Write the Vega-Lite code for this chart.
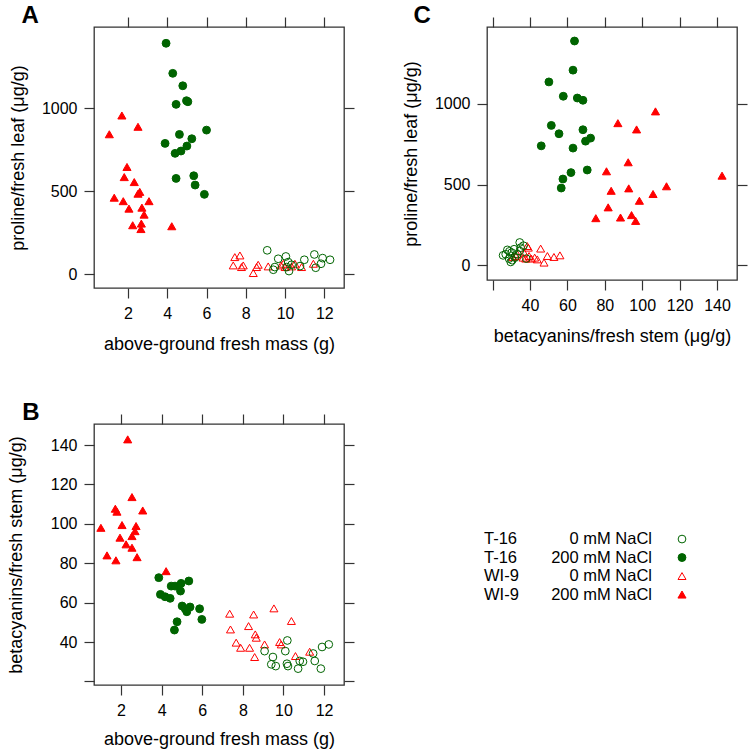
{
  "$schema": "https://vega.github.io/schema/vega-lite/v6.json",
  "padding": {"left": 6, "top": 3, "right": 0, "bottom": 0},
  "background": "white",
  "datasets": {
    "panelA": [
      {"g": "T-16 200", "mass": 3.94, "proline": 1390},
      {"g": "T-16 200", "mass": 4.28, "proline": 1209},
      {"g": "T-16 200", "mass": 4.79, "proline": 1134},
      {"g": "T-16 200", "mass": 4.45, "proline": 1022},
      {"g": "T-16 200", "mass": 4.98, "proline": 1044},
      {"g": "T-16 200", "mass": 5.05, "proline": 1038},
      {"g": "T-16 200", "mass": 4.62, "proline": 841},
      {"g": "T-16 200", "mass": 3.89, "proline": 787},
      {"g": "T-16 200", "mass": 6.0, "proline": 867},
      {"g": "T-16 200", "mass": 5.25, "proline": 815},
      {"g": "T-16 200", "mass": 5.0, "proline": 771},
      {"g": "T-16 200", "mass": 4.7, "proline": 741},
      {"g": "T-16 200", "mass": 4.4, "proline": 727},
      {"g": "T-16 200", "mass": 4.45, "proline": 576},
      {"g": "T-16 200", "mass": 5.35, "proline": 592},
      {"g": "T-16 200", "mass": 5.42, "proline": 536},
      {"g": "T-16 200", "mass": 5.89, "proline": 480},
      {"g": "WI-9 200", "mass": 1.69, "proline": 955},
      {"g": "WI-9 200", "mass": 1.05, "proline": 842},
      {"g": "WI-9 200", "mass": 2.51, "proline": 887},
      {"g": "WI-9 200", "mass": 1.95, "proline": 645},
      {"g": "WI-9 200", "mass": 1.81, "proline": 584},
      {"g": "WI-9 200", "mass": 2.32, "proline": 554},
      {"g": "WI-9 200", "mass": 2.51, "proline": 484},
      {"g": "WI-9 200", "mass": 2.6, "proline": 495},
      {"g": "WI-9 200", "mass": 1.3, "proline": 460},
      {"g": "WI-9 200", "mass": 1.76, "proline": 439},
      {"g": "WI-9 200", "mass": 3.07, "proline": 439},
      {"g": "WI-9 200", "mass": 2.05, "proline": 394},
      {"g": "WI-9 200", "mass": 2.71, "proline": 400},
      {"g": "WI-9 200", "mass": 2.82, "proline": 358},
      {"g": "WI-9 200", "mass": 2.24, "proline": 294},
      {"g": "WI-9 200", "mass": 2.68, "proline": 304},
      {"g": "WI-9 200", "mass": 2.66, "proline": 271},
      {"g": "WI-9 200", "mass": 4.23, "proline": 288},
      {"g": "WI-9 0", "mass": 7.44, "proline": 102},
      {"g": "WI-9 0", "mass": 7.7, "proline": 112},
      {"g": "WI-9 0", "mass": 7.36, "proline": 52},
      {"g": "WI-9 0", "mass": 7.87, "proline": 52},
      {"g": "WI-9 0", "mass": 8.38, "proline": 6},
      {"g": "WI-9 0", "mass": 8.63, "proline": 56},
      {"g": "WI-9 0", "mass": 8.55, "proline": 42},
      {"g": "WI-9 0", "mass": 9.14, "proline": 46},
      {"g": "WI-9 0", "mass": 9.79, "proline": 52},
      {"g": "WI-9 0", "mass": 9.91, "proline": 62},
      {"g": "WI-9 0", "mass": 10.5, "proline": 62},
      {"g": "WI-9 0", "mass": 11.44, "proline": 62},
      {"g": "WI-9 0", "mass": 10.33, "proline": 46},
      {"g": "WI-9 0", "mass": 10.0, "proline": 42},
      {"g": "WI-9 0", "mass": 7.78, "proline": 42},
      {"g": "WI-9 0", "mass": 10.84, "proline": 42},
      {"g": "T-16 0", "mass": 9.09, "proline": 143},
      {"g": "T-16 0", "mass": 9.65, "proline": 92},
      {"g": "T-16 0", "mass": 10.04, "proline": 106},
      {"g": "T-16 0", "mass": 10.16, "proline": 72},
      {"g": "T-16 0", "mass": 10.2, "proline": 18},
      {"g": "T-16 0", "mass": 10.98, "proline": 86},
      {"g": "T-16 0", "mass": 11.49, "proline": 118},
      {"g": "T-16 0", "mass": 11.91, "proline": 96},
      {"g": "T-16 0", "mass": 12.29, "proline": 86},
      {"g": "T-16 0", "mass": 11.83, "proline": 62},
      {"g": "T-16 0", "mass": 11.56, "proline": 38},
      {"g": "T-16 0", "mass": 10.76, "proline": 48},
      {"g": "T-16 0", "mass": 9.48, "proline": 42},
      {"g": "T-16 0", "mass": 9.4, "proline": 26},
      {"g": "T-16 0", "mass": 10.08, "proline": 42},
      {"g": "T-16 0", "mass": 10.33, "proline": 56}
    ],
    "panelB": [
      {"g": "WI-9 200", "mass": 2.33, "betacyanin": 142.9},
      {"g": "WI-9 200", "mass": 2.54, "betacyanin": 113.6},
      {"g": "WI-9 200", "mass": 1.72, "betacyanin": 107.7},
      {"g": "WI-9 200", "mass": 1.8, "betacyanin": 106.2},
      {"g": "WI-9 200", "mass": 3.07, "betacyanin": 106.8},
      {"g": "WI-9 200", "mass": 1.01, "betacyanin": 98.0},
      {"g": "WI-9 200", "mass": 2.05, "betacyanin": 99.4},
      {"g": "WI-9 200", "mass": 2.74, "betacyanin": 98.9},
      {"g": "WI-9 200", "mass": 2.69, "betacyanin": 96.3},
      {"g": "WI-9 200", "mass": 1.95, "betacyanin": 93.0},
      {"g": "WI-9 200", "mass": 2.54, "betacyanin": 93.8},
      {"g": "WI-9 200", "mass": 2.25, "betacyanin": 89.6},
      {"g": "WI-9 200", "mass": 2.54, "betacyanin": 87.9},
      {"g": "WI-9 200", "mass": 1.31, "betacyanin": 84.0},
      {"g": "WI-9 200", "mass": 1.75, "betacyanin": 81.5},
      {"g": "WI-9 200", "mass": 2.79, "betacyanin": 83.1},
      {"g": "WI-9 200", "mass": 4.22, "betacyanin": 76.0},
      {"g": "T-16 200", "mass": 3.86, "betacyanin": 72.7},
      {"g": "T-16 200", "mass": 3.94, "betacyanin": 64.2},
      {"g": "T-16 200", "mass": 4.17, "betacyanin": 63.0},
      {"g": "T-16 200", "mass": 4.42, "betacyanin": 62.2},
      {"g": "T-16 200", "mass": 4.47, "betacyanin": 68.4},
      {"g": "T-16 200", "mass": 4.66, "betacyanin": 68.4},
      {"g": "T-16 200", "mass": 4.96, "betacyanin": 69.8},
      {"g": "T-16 200", "mass": 5.34, "betacyanin": 71.0},
      {"g": "T-16 200", "mass": 4.93, "betacyanin": 65.9},
      {"g": "T-16 200", "mass": 5.01, "betacyanin": 58.3},
      {"g": "T-16 200", "mass": 5.16, "betacyanin": 56.9},
      {"g": "T-16 200", "mass": 5.4, "betacyanin": 57.8},
      {"g": "T-16 200", "mass": 5.24, "betacyanin": 55.4},
      {"g": "T-16 200", "mass": 5.87, "betacyanin": 56.9},
      {"g": "T-16 200", "mass": 5.98, "betacyanin": 51.5},
      {"g": "T-16 200", "mass": 4.76, "betacyanin": 50.3},
      {"g": "T-16 200", "mass": 4.63, "betacyanin": 46.1},
      {"g": "WI-9 0", "mass": 7.35, "betacyanin": 54.4},
      {"g": "WI-9 0", "mass": 8.53, "betacyanin": 54.0},
      {"g": "WI-9 0", "mass": 9.53, "betacyanin": 57.1},
      {"g": "WI-9 0", "mass": 10.39, "betacyanin": 50.7},
      {"g": "WI-9 0", "mass": 7.39, "betacyanin": 46.4},
      {"g": "WI-9 0", "mass": 8.28, "betacyanin": 48.1},
      {"g": "WI-9 0", "mass": 7.67, "betacyanin": 39.7},
      {"g": "WI-9 0", "mass": 7.89, "betacyanin": 37.1},
      {"g": "WI-9 0", "mass": 8.33, "betacyanin": 37.1},
      {"g": "WI-9 0", "mass": 8.58, "betacyanin": 32.4},
      {"g": "WI-9 0", "mass": 9.07, "betacyanin": 38.8},
      {"g": "WI-9 0", "mass": 8.61, "betacyanin": 43.9},
      {"g": "WI-9 0", "mass": 8.66, "betacyanin": 42.2},
      {"g": "WI-9 0", "mass": 9.81, "betacyanin": 40.0},
      {"g": "WI-9 0", "mass": 9.89, "betacyanin": 38.8},
      {"g": "WI-9 0", "mass": 10.59, "betacyanin": 32.9},
      {"g": "WI-9 0", "mass": 11.29, "betacyanin": 35.1},
      {"g": "T-16 0", "mass": 9.07, "betacyanin": 35.4},
      {"g": "T-16 0", "mass": 9.48, "betacyanin": 32.4},
      {"g": "T-16 0", "mass": 9.4, "betacyanin": 28.7},
      {"g": "T-16 0", "mass": 9.62, "betacyanin": 27.8},
      {"g": "T-16 0", "mass": 10.19, "betacyanin": 40.8},
      {"g": "T-16 0", "mass": 10.09, "betacyanin": 35.4},
      {"g": "T-16 0", "mass": 10.17, "betacyanin": 29.0},
      {"g": "T-16 0", "mass": 10.22, "betacyanin": 27.8},
      {"g": "T-16 0", "mass": 10.72, "betacyanin": 26.5},
      {"g": "T-16 0", "mass": 10.96, "betacyanin": 30.0},
      {"g": "T-16 0", "mass": 11.46, "betacyanin": 34.2},
      {"g": "T-16 0", "mass": 11.54, "betacyanin": 30.4},
      {"g": "T-16 0", "mass": 11.9, "betacyanin": 37.5},
      {"g": "T-16 0", "mass": 12.23, "betacyanin": 38.8},
      {"g": "T-16 0", "mass": 11.84, "betacyanin": 26.5},
      {"g": "T-16 0", "mass": 10.8, "betacyanin": 30.4}
    ],
    "panelC": [
      {"g": "T-16 200", "betacyanin": 63.8, "proline": 1391},
      {"g": "T-16 200", "betacyanin": 63.0, "proline": 1210},
      {"g": "T-16 200", "betacyanin": 50.1, "proline": 1137},
      {"g": "T-16 200", "betacyanin": 57.8, "proline": 1048},
      {"g": "T-16 200", "betacyanin": 65.3, "proline": 1037},
      {"g": "T-16 200", "betacyanin": 68.3, "proline": 1023},
      {"g": "T-16 200", "betacyanin": 51.4, "proline": 867},
      {"g": "T-16 200", "betacyanin": 55.5, "proline": 815},
      {"g": "T-16 200", "betacyanin": 68.3, "proline": 840},
      {"g": "T-16 200", "betacyanin": 69.7, "proline": 769},
      {"g": "T-16 200", "betacyanin": 72.4, "proline": 788},
      {"g": "T-16 200", "betacyanin": 46.0, "proline": 740},
      {"g": "T-16 200", "betacyanin": 63.0, "proline": 726},
      {"g": "T-16 200", "betacyanin": 70.6, "proline": 590},
      {"g": "T-16 200", "betacyanin": 61.9, "proline": 574},
      {"g": "T-16 200", "betacyanin": 57.6, "proline": 534},
      {"g": "T-16 200", "betacyanin": 56.7, "proline": 478},
      {"g": "WI-9 200", "betacyanin": 107.1, "proline": 954},
      {"g": "WI-9 200", "betacyanin": 87.0, "proline": 881},
      {"g": "WI-9 200", "betacyanin": 97.0, "proline": 842},
      {"g": "WI-9 200", "betacyanin": 92.5, "proline": 638},
      {"g": "WI-9 200", "betacyanin": 80.9, "proline": 582},
      {"g": "WI-9 200", "betacyanin": 142.7, "proline": 555},
      {"g": "WI-9 200", "betacyanin": 83.4, "proline": 461},
      {"g": "WI-9 200", "betacyanin": 92.8, "proline": 476},
      {"g": "WI-9 200", "betacyanin": 113.0, "proline": 489},
      {"g": "WI-9 200", "betacyanin": 105.8, "proline": 441},
      {"g": "WI-9 200", "betacyanin": 98.5, "proline": 399},
      {"g": "WI-9 200", "betacyanin": 81.8, "proline": 358},
      {"g": "WI-9 200", "betacyanin": 75.2, "proline": 291},
      {"g": "WI-9 200", "betacyanin": 88.4, "proline": 295},
      {"g": "WI-9 200", "betacyanin": 94.3, "proline": 310},
      {"g": "WI-9 200", "betacyanin": 96.5, "proline": 274},
      {"g": "WI-9 0", "betacyanin": 30.9, "proline": 50},
      {"g": "WI-9 0", "betacyanin": 33.2, "proline": 67},
      {"g": "WI-9 0", "betacyanin": 36.8, "proline": 77},
      {"g": "WI-9 0", "betacyanin": 39.1, "proline": 108},
      {"g": "WI-9 0", "betacyanin": 39.5, "proline": 56},
      {"g": "WI-9 0", "betacyanin": 42.5, "proline": 46},
      {"g": "WI-9 0", "betacyanin": 45.7, "proline": 102},
      {"g": "WI-9 0", "betacyanin": 47.5, "proline": 15},
      {"g": "WI-9 0", "betacyanin": 49.3, "proline": 56},
      {"g": "WI-9 0", "betacyanin": 52.8, "proline": 50},
      {"g": "WI-9 0", "betacyanin": 56.0, "proline": 60},
      {"g": "WI-9 0", "betacyanin": 40.7, "proline": 40},
      {"g": "WI-9 0", "betacyanin": 37.7, "proline": 40},
      {"g": "WI-9 0", "betacyanin": 43.9, "proline": 35},
      {"g": "WI-9 0", "betacyanin": 36.3, "proline": 46},
      {"g": "WI-9 0", "betacyanin": 32.3, "proline": 56},
      {"g": "WI-9 0", "betacyanin": 38.5, "proline": 118},
      {"g": "T-16 0", "betacyanin": 25.6, "proline": 60},
      {"g": "T-16 0", "betacyanin": 27.9, "proline": 94},
      {"g": "T-16 0", "betacyanin": 30.2, "proline": 77},
      {"g": "T-16 0", "betacyanin": 28.8, "proline": 40},
      {"g": "T-16 0", "betacyanin": 29.7, "proline": 19},
      {"g": "T-16 0", "betacyanin": 34.5, "proline": 140},
      {"g": "T-16 0", "betacyanin": 35.0, "proline": 108},
      {"g": "T-16 0", "betacyanin": 33.2, "proline": 67},
      {"g": "T-16 0", "betacyanin": 32.0, "proline": 46},
      {"g": "T-16 0", "betacyanin": 27.0, "proline": 67},
      {"g": "T-16 0", "betacyanin": 34.5, "proline": 87},
      {"g": "T-16 0", "betacyanin": 38.0, "proline": 40},
      {"g": "T-16 0", "betacyanin": 31.5, "proline": 98},
      {"g": "T-16 0", "betacyanin": 29.0, "proline": 85},
      {"g": "T-16 0", "betacyanin": 36.5, "proline": 120},
      {"g": "T-16 0", "betacyanin": 30.5, "proline": 30}
    ],
    "legendRows": [
      {"g": "T-16 0", "genotype": "T-16", "treatment": "0 mM NaCl", "row": 1},
      {"g": "T-16 200", "genotype": "T-16", "treatment": "200 mM NaCl", "row": 2},
      {"g": "WI-9 0", "genotype": "WI-9", "treatment": "0 mM NaCl", "row": 3},
      {"g": "WI-9 200", "genotype": "WI-9", "treatment": "200 mM NaCl", "row": 4}
    ]
  },
  "spacing": 46,
  "vconcat": [
    {
      "spacing": 45,
      "hconcat": [
        {
          "width": 250, "height": 261,
          "title": {"text": "A", "dx": 12, "offset": -12},
          "data": {"name": "panelA"},
          "layer": [
            {
              "mark": {"type": "point", "opacity": 1, "strokeWidth": 1},
              "encoding": {
                "x": {"field": "mass", "type": "quantitative", "scale": {"domain": [0.27, 13.0], "nice": false, "zero": false}, "axis": {"title": "above-ground fresh mass (g)", "values": [2, 4, 6, 8, 10, 12]}},
                "y": {"field": "proline", "type": "quantitative", "scale": {"domain": [-84, 1488], "nice": false, "zero": false}, "axis": {"title": "proline/fresh leaf (μg/g)", "values": [0, 500, 1000], "format": "d", "titlePadding": 14}},
                "stroke": {"field": "g", "type": "nominal", "scale": {"domain": ["T-16 0", "T-16 200", "WI-9 0", "WI-9 200"], "range": ["#006400", "#006400", "#ff0000", "#ff0000"]}, "legend": null},
                "fill": {"field": "g", "type": "nominal", "scale": {"domain": ["T-16 0", "T-16 200", "WI-9 0", "WI-9 200"], "range": ["transparent", "#006400", "transparent", "#ff0000"]}, "legend": null},
                "shape": {"field": "g", "type": "nominal", "scale": {"domain": ["T-16 0", "T-16 200", "WI-9 0", "WI-9 200"], "range": ["circle", "circle", "triangle-up", "triangle-up"]}, "legend": null},
                "size": {"field": "g", "type": "ordinal", "scale": {"domain": ["T-16 0", "T-16 200", "WI-9 0", "WI-9 200"], "range": [60, 66, 130, 140]}, "legend": null}
              }
            },
            {
              "mark": {"type": "point", "opacity": 0},
              "encoding": {
                "x": {"field": "mass", "type": "quantitative", "axis": {"orient": "top", "title": null, "labels": false, "values": [2, 4, 6, 8, 10, 12]}},
                "y": {"field": "proline", "type": "quantitative", "axis": {"orient": "right", "title": null, "labels": false, "values": [0, 500, 1000]}}
              }
            }
          ],
          "resolve": {"axis": {"x": "independent", "y": "independent"}}
        },
        {
          "width": 250, "height": 253,
          "title": {"text": "C", "dx": 11, "offset": -12},
          "data": {"name": "panelC"},
          "layer": [
            {
              "mark": {"type": "point", "opacity": 1, "strokeWidth": 1},
              "encoding": {
                "x": {"field": "betacyanin", "type": "quantitative", "scale": {"domain": [17, 150.7], "nice": false, "zero": false}, "axis": {"title": "betacyanins/fresh stem (μg/g)", "values": [20, 40, 60, 80, 100, 120, 140], "labelExpr": "datum.value == 20 ? '' : datum.label"}},
                "y": {"field": "proline", "type": "quantitative", "scale": {"domain": [-93, 1478], "nice": false, "zero": false}, "axis": {"title": "proline/fresh leaf (μg/g)", "values": [0, 500, 1000], "format": "d", "titlePadding": 14}},
                "stroke": {"field": "g", "type": "nominal", "scale": {"domain": ["T-16 0", "T-16 200", "WI-9 0", "WI-9 200"], "range": ["#006400", "#006400", "#ff0000", "#ff0000"]}, "legend": null},
                "fill": {"field": "g", "type": "nominal", "scale": {"domain": ["T-16 0", "T-16 200", "WI-9 0", "WI-9 200"], "range": ["transparent", "#006400", "transparent", "#ff0000"]}, "legend": null},
                "shape": {"field": "g", "type": "nominal", "scale": {"domain": ["T-16 0", "T-16 200", "WI-9 0", "WI-9 200"], "range": ["circle", "circle", "triangle-up", "triangle-up"]}, "legend": null},
                "size": {"field": "g", "type": "ordinal", "scale": {"domain": ["T-16 0", "T-16 200", "WI-9 0", "WI-9 200"], "range": [60, 66, 130, 140]}, "legend": null}
              }
            },
            {
              "mark": {"type": "point", "opacity": 0},
              "encoding": {
                "x": {"field": "betacyanin", "type": "quantitative", "axis": {"orient": "top", "title": null, "labels": false, "values": [20, 40, 60, 80, 100, 120, 140]}},
                "y": {"field": "proline", "type": "quantitative", "axis": {"orient": "right", "title": null, "labels": false, "values": [0, 500, 1000]}}
              }
            }
          ],
          "resolve": {"axis": {"x": "independent", "y": "independent"}}
        }
      ]
    },
    {
      "spacing": 50,
      "hconcat": [
        {
          "width": 250, "height": 261,
          "title": {"text": "B", "dx": 15, "offset": -12},
          "data": {"name": "panelB"},
          "layer": [
            {
              "mark": {"type": "point", "opacity": 1, "strokeWidth": 1},
              "encoding": {
                "x": {"field": "mass", "type": "quantitative", "scale": {"domain": [0.67, 12.98], "nice": false, "zero": false}, "axis": {"title": "above-ground fresh mass (g)", "values": [2, 4, 6, 8, 10, 12], "titlePadding": 12}},
                "y": {"field": "betacyanin", "type": "quantitative", "scale": {"domain": [18.2, 150.7], "nice": false, "zero": false}, "axis": {"title": "betacyanins/fresh stem (μg/g)", "values": [20, 40, 60, 80, 100, 120, 140], "labelExpr": "datum.value == 20 ? '' : datum.label", "titlePadding": 25}},
                "stroke": {"field": "g", "type": "nominal", "scale": {"domain": ["T-16 0", "T-16 200", "WI-9 0", "WI-9 200"], "range": ["#006400", "#006400", "#ff0000", "#ff0000"]}, "legend": null},
                "fill": {"field": "g", "type": "nominal", "scale": {"domain": ["T-16 0", "T-16 200", "WI-9 0", "WI-9 200"], "range": ["transparent", "#006400", "transparent", "#ff0000"]}, "legend": null},
                "shape": {"field": "g", "type": "nominal", "scale": {"domain": ["T-16 0", "T-16 200", "WI-9 0", "WI-9 200"], "range": ["circle", "circle", "triangle-up", "triangle-up"]}, "legend": null},
                "size": {"field": "g", "type": "ordinal", "scale": {"domain": ["T-16 0", "T-16 200", "WI-9 0", "WI-9 200"], "range": [60, 66, 130, 140]}, "legend": null}
              }
            },
            {
              "mark": {"type": "point", "opacity": 0},
              "encoding": {
                "x": {"field": "mass", "type": "quantitative", "axis": {"orient": "top", "title": null, "labels": false, "values": [2, 4, 6, 8, 10, 12]}},
                "y": {"field": "betacyanin", "type": "quantitative", "axis": {"orient": "right", "title": null, "labels": false, "values": [20, 40, 60, 80, 100, 120, 140]}}
              }
            }
          ],
          "resolve": {"axis": {"x": "independent", "y": "independent"}}
        },
        {
          "width": 300, "height": 261,
          "view": {"stroke": null},
          "data": {"name": "legendRows"},
          "layer": [
            {
              "mark": {"type": "text", "align": "left", "baseline": "middle", "fontSize": 16.5, "color": "black"},
              "encoding": {
                "x": {"datum": 78, "type": "quantitative", "scale": {"domain": [0, 300], "nice": false, "zero": false}, "axis": null},
                "y": {"field": "row", "type": "quantitative", "scale": {"domain": [-5.22, 8.89], "reverse": true, "nice": false, "zero": false}, "axis": null},
                "text": {"field": "genotype"}
              }
            },
            {
              "mark": {"type": "text", "align": "right", "baseline": "middle", "fontSize": 16.5, "color": "black"},
              "encoding": {
                "x": {"datum": 246, "type": "quantitative"},
                "y": {"field": "row", "type": "quantitative"},
                "text": {"field": "treatment"}
              }
            },
            {
              "mark": {"type": "point", "opacity": 1, "strokeWidth": 1},
              "encoding": {
                "x": {"datum": 276, "type": "quantitative"},
                "y": {"field": "row", "type": "quantitative"},
                "stroke": {"field": "g", "type": "nominal", "scale": {"domain": ["T-16 0", "T-16 200", "WI-9 0", "WI-9 200"], "range": ["#006400", "#006400", "#ff0000", "#ff0000"]}, "legend": null},
                "fill": {"field": "g", "type": "nominal", "scale": {"domain": ["T-16 0", "T-16 200", "WI-9 0", "WI-9 200"], "range": ["transparent", "#006400", "transparent", "#ff0000"]}, "legend": null},
                "shape": {"field": "g", "type": "nominal", "scale": {"domain": ["T-16 0", "T-16 200", "WI-9 0", "WI-9 200"], "range": ["circle", "circle", "triangle-up", "triangle-up"]}, "legend": null},
                "size": {"field": "g", "type": "ordinal", "scale": {"domain": ["T-16 0", "T-16 200", "WI-9 0", "WI-9 200"], "range": [60, 66, 130, 140]}, "legend": null}
              }
            }
          ]
        }
      ]
    }
  ],
  "config": {
    "font": "Liberation Sans",
    "view": {"stroke": "#333333", "strokeWidth": 1.3},
    "axis": {
      "domain": false, "grid": false,
      "tickColor": "#333333", "tickSize": 10, "tickWidth": 1.2,
      "labelFontSize": 16, "labelColor": "black", "labelFont": "Liberation Sans", "labelPadding": 7,
      "titleFontSize": 18, "titleFontWeight": "normal", "titleColor": "black", "titleFont": "Liberation Sans", "titlePadding": 10
    },
    "axisX": {"titlePadding": 14},
    "title": {"fontSize": 24, "fontWeight": "bold", "anchor": "start", "frame": "bounds", "color": "black", "font": "Liberation Sans"}
  }
}
